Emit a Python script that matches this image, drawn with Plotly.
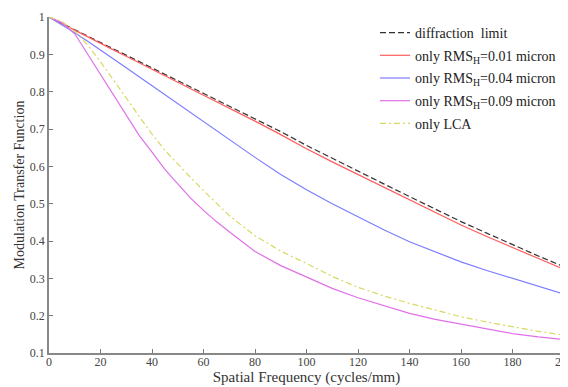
import plotly.graph_objects as go

freq = [0, 5, 10, 15, 20, 25, 30, 35, 40, 45, 50, 55, 60, 65, 70, 80, 90, 100,
        110, 120, 130, 140, 150, 160, 170, 180, 190, 200]

diffraction = [1.000, 0.983, 0.966, 0.949, 0.932, 0.915, 0.898, 0.881, 0.864, 0.847,
               0.830, 0.813, 0.797, 0.780, 0.763, 0.729, 0.693, 0.656,
               0.621, 0.587, 0.553, 0.519, 0.485, 0.452, 0.421, 0.390, 0.360, 0.331]
rms_001 = [1.000, 0.982, 0.965, 0.947, 0.930, 0.912, 0.895, 0.877, 0.860, 0.842,
           0.825, 0.808, 0.791, 0.773, 0.756, 0.721, 0.685, 0.647,
           0.612, 0.578, 0.544, 0.510, 0.476, 0.443, 0.412, 0.382, 0.352, 0.324]
rms_004 = [1.000, 0.980, 0.958, 0.935, 0.912, 0.888, 0.864, 0.840, 0.816, 0.791,
           0.767, 0.743, 0.719, 0.694, 0.670, 0.624, 0.578, 0.537,
           0.500, 0.465, 0.430, 0.398, 0.370, 0.344, 0.321, 0.300, 0.279, 0.258]
rms_009 = [1.000, 0.985, 0.955, 0.900, 0.845, 0.790, 0.735, 0.683, 0.638, 0.592,
           0.553, 0.515, 0.482, 0.452, 0.425, 0.372, 0.334, 0.303,
           0.273, 0.248, 0.226, 0.206, 0.190, 0.177, 0.164, 0.152, 0.143, 0.136]
lca = [1.000, 0.988, 0.962, 0.925, 0.880, 0.830, 0.783, 0.734, 0.686, 0.643,
       0.606, 0.570, 0.535, 0.502, 0.468, 0.414, 0.373, 0.340,
       0.305, 0.276, 0.253, 0.233, 0.214, 0.197, 0.183, 0.170, 0.158, 0.148]

x_ticks = [0, 20, 40, 60, 80, 100, 120, 140, 160, 180, 200]
y_ticks = [0.1, 0.2, 0.3, 0.4, 0.5, 0.6, 0.7, 0.8, 0.9, 1]
y_tick_text = ["0.1", "0.2", "0.3", "0.4", "0.5", "0.6", "0.7", "0.8", "0.9", "1"]

series = [
    ("diffraction\u00a0 limit", diffraction, "#333333", "6px,3px"),
    ("only RMS<sub>H</sub>=0.01 micron", rms_001, "#ff5c5c", "solid"),
    ("only RMS<sub>H</sub>=0.04 micron", rms_004, "#7c7cff", "solid"),
    ("only RMS<sub>H</sub>=0.09 micron", rms_009, "#e070e8", "solid"),
    ("only LCA", lca, "#d8d860", "6px,3px,2px,3px"),
]

fig = go.Figure()
for i, (name, vals, color, dash) in enumerate(series):
    fig.add_trace(go.Scatter(x=freq, y=vals, mode="lines", name=name,
                             legendgroup="g%d" % i,
                             line=dict(color=color, width=1.2, dash=dash)))

font_family = "Liberation Serif, Times New Roman, serif"
fig.update_layout(
    template="none",
    width=568, height=387,
    margin=dict(l=41, r=12, t=9, b=42),
    paper_bgcolor="white", plot_bgcolor="white",
    font=dict(family=font_family, size=12, color="#333333"),
    showlegend=True,
    legend=dict(x=0.633, y=1.0, xanchor="left", yanchor="top",
                bgcolor="rgba(0,0,0,0)", borderwidth=0,
                font=dict(family=font_family, size=14, color="#222222"),
                itemwidth=30, tracegroupgap=1.5),
    xaxis=dict(range=[0, 200], tickvals=x_ticks, ticks="inside", ticklen=4,
               tickcolor="#777777", showline=True, linecolor="#888888", linewidth=1.5,
               showgrid=False, zeroline=False, mirror=False, automargin=False,
               ticklabeloverflow="allow", ticklabelstandoff=-3,
               title=dict(text="Spatial Frequency (cycles/mm)", standoff=0,
                          font=dict(family=font_family, size=15, color="#333333")),
               tickfont=dict(family=font_family, size=12, color="#444444")),
    yaxis=dict(range=[0.1, 1], tickvals=y_ticks, ticktext=y_tick_text,
               ticks="inside", ticklen=4, tickcolor="#777777",
               showline=True, linecolor="#888888", linewidth=1.5,
               showgrid=False, zeroline=False, mirror=False, automargin=False,
               title=dict(text="Modulation Transfer Function", standoff=2,
                          font=dict(family=font_family, size=14, color="#333333")),
               tickfont=dict(family=font_family, size=12, color="#444444")),
)

fig.write_html("out.html")
